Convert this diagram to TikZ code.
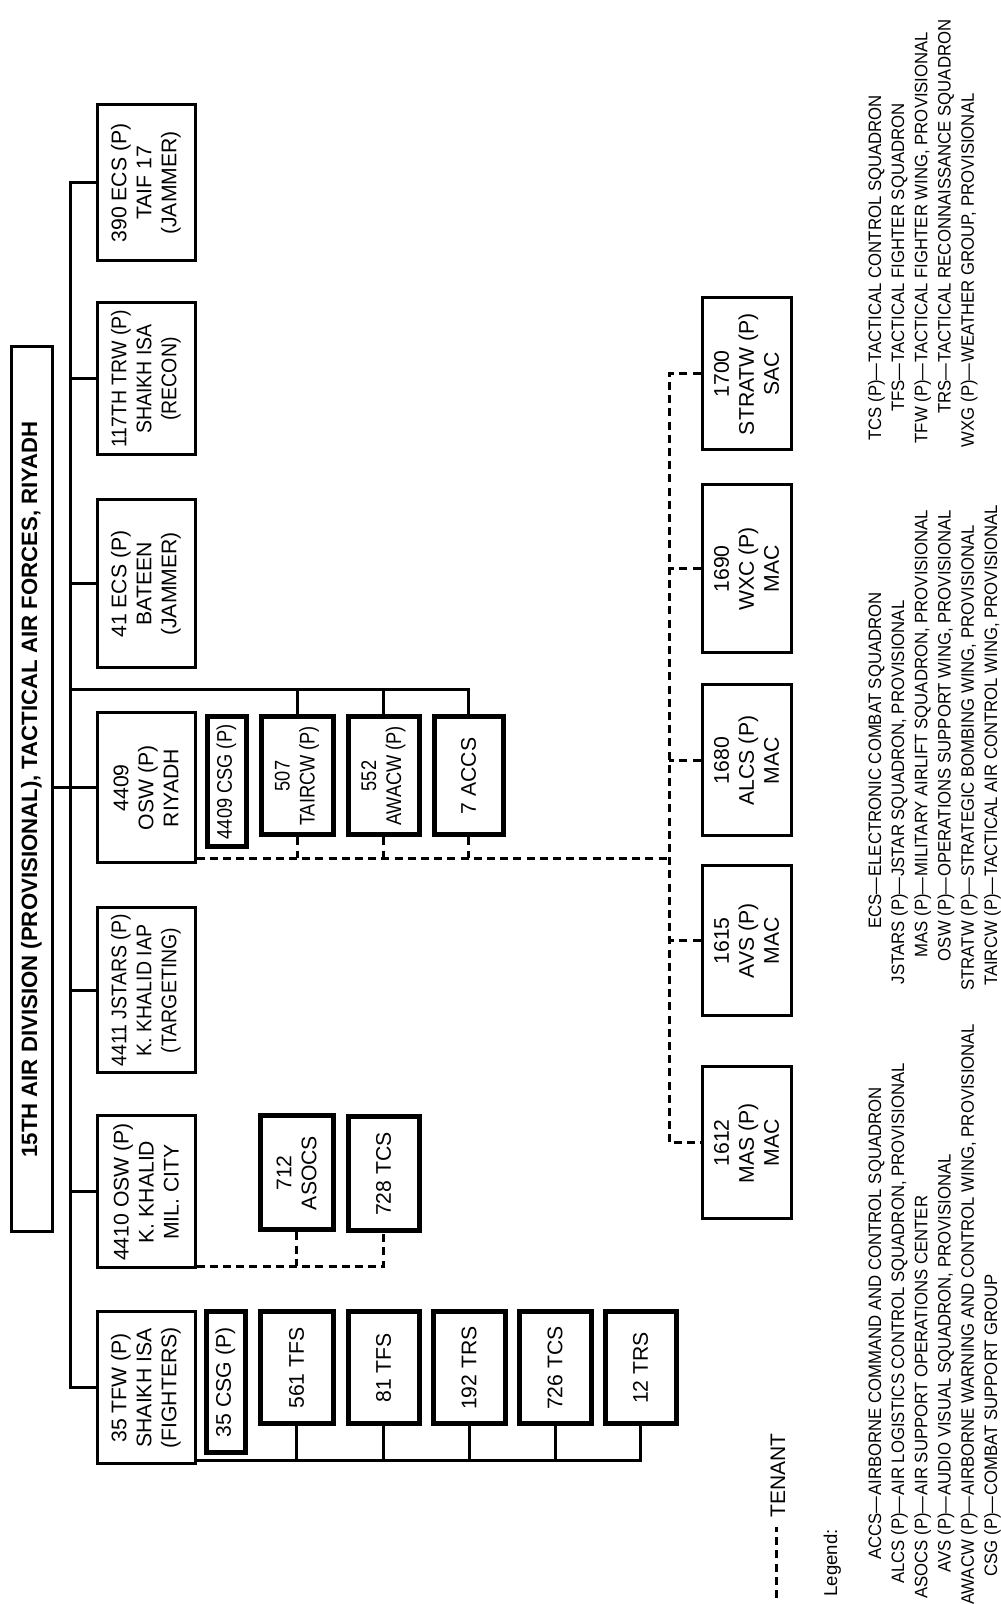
\documentclass[tikz,border=0pt]{standalone}
\usepackage{fontspec}
\setmainfont{Liberation Sans}
\newfontfamily\narrowA{Liberation Sans}[FakeStretch=0.86]
\newfontfamily\narrowB{Liberation Sans}[FakeStretch=0.92]
\newfontfamily\legfamily{Liberation Sans}[FakeStretch=0.93]
\usetikzlibrary{calc}
\newlength\pxu
\setlength\pxu{0.5pt}
\newcommand\boxfnt{\fontsize{10.6pt}{12.5pt}\selectfont}
\newcommand\nboxfnt{\narrowA\fontsize{10.6pt}{12.5pt}\selectfont}
\newcommand\mboxfnt{\narrowB\fontsize{10.6pt}{12.5pt}\selectfont}
\newcommand\titlefnt{\bfseries\fontsize{11.1pt}{12pt}\selectfont}
\newcommand\legfnt{\legfamily\fontsize{9pt}{11.6pt}\selectfont}
\tikzset{
  box/.style={draw, line width=1.5pt, fill=white, align=center, inner sep=0pt, font=\boxfnt},
  tbox/.style={box, line width=2.5pt},
  lone/.style={box, minimum height=98\pxu},
  tenbox/.style={box, minimum height=89\pxu},
  conn/.style={line width=1.5pt},
  tenant/.style={line width=1.5pt, dash pattern=on 4pt off 2.6pt},
  abbr/.style={anchor=base east, inner sep=0pt, font=\legfnt},
  defn/.style={anchor=base west, inner sep=0pt, font=\legfnt},
}
\begin{document}
\begin{tikzpicture}[x=0.5pt, y=0.5pt]
\begin{scope}[shift={(1000,0)}, rotate=90, transform shape]
\fill[white] (0,0) rectangle (1604,1000);
\useasboundingbox (0,0) rectangle (1604,1000);

% title
\node[box, minimum width=885\pxu, minimum height=41\pxu, font=\titlefnt] (title) at (814.5,968.5)
  {15TH AIR DIVISION (PROVISIONAL), TACTICAL AIR FORCES, RIYADH};

% level 1
\node[lone, minimum width=156\pxu] (e390) at (1421,854) {390 ECS (P)\\TAIF 17\\(JAMMER)};
\node[lone, minimum width=152\pxu, font=\mboxfnt] (t117) at (1225,854) {117TH TRW (P)\\SHAIKH ISA\\(RECON)};
\node[lone, minimum width=168\pxu] (e41) at (1020,854) {41 ECS (P)\\BATEEN\\(JAMMER)};
\node[lone, minimum width=150\pxu] (o4409) at (816,854) {4409\\OSW (P)\\RIYADH};
\node[lone, minimum width=165\pxu, font=\mboxfnt] (j4411) at (613.5,854) {4411 JSTARS (P)\\K. KHALID IAP\\(TARGETING)};
\node[lone, minimum width=152\pxu] (o4410) at (412,854) {4410 OSW (P)\\K. KHALID\\MIL. CITY};
\node[lone, minimum width=152\pxu] (t35) at (216,854) {35 TFW (P)\\SHAIKH ISA\\(FIGHTERS)};

% under 4409
\node[tbox, minimum width=130\pxu, minimum height=39\pxu, font=\nboxfnt] (csg4409) at (822,773.5) {4409 CSG (P)};
\node[tbox, minimum width=118\pxu, minimum height=72\pxu, font=\nboxfnt] (tw507) at (828,703) {507\\TAIRCW (P)};
\node[tbox, minimum width=118\pxu, minimum height=71\pxu, font=\nboxfnt] (aw552) at (828,616.5) {552\\AWACW (P)};
\node[tbox, minimum width=118\pxu, minimum height=69\pxu] (acc7) at (828,531.5) {7 ACCS};

% under 4410
\node[tbox, minimum width=114\pxu, minimum height=73\pxu] (as712) at (431,703.5) {712\\ASOCS};
\node[tbox, minimum width=114\pxu, minimum height=71\pxu] (tc728) at (430,616.5) {728 TCS};

% under 35 TFW
\node[tbox, minimum width=141\pxu, minimum height=39\pxu] (csg35) at (221.5,774.5) {35 CSG (P)};
\node[tbox, minimum width=112\pxu, minimum height=73\pxu] (f561) at (236,703.5) {561 TFS};
\node[tbox, minimum width=112\pxu, minimum height=71\pxu] (f81) at (236,616.5) {81 TFS};
\node[tbox, minimum width=112\pxu, minimum height=72\pxu] (r192) at (236,531) {192 TRS};
\node[tbox, minimum width=112\pxu, minimum height=72\pxu] (c726) at (236,445) {726 TCS};
\node[tbox, minimum width=112\pxu, minimum height=71\pxu] (r12) at (236,359.5) {12 TRS};

% tenants
\node[tenbox, minimum width=152\pxu] (s1700) at (1230,253.5) {1700\\STRATW (P)\\SAC};
\node[tenbox, minimum width=168\pxu] (w1690) at (1035,253.5) {1690\\WXC (P)\\MAC};
\node[tenbox, minimum width=151\pxu] (a1680) at (843.5,253.5) {1680\\ALCS (P)\\MAC};
\node[tenbox, minimum width=150\pxu] (v1615) at (663,253.5) {1615\\AVS (P)\\MAC};
\node[tenbox, minimum width=152\pxu] (m1612) at (461,253.5) {1612\\MAS (P)\\MAC};

% spine
\coordinate (spine) at (0,930);
\draw[conn] (e390.north) -- (e390.north |- spine) -- (t35.north |- spine) -- (t35.north);
\draw[conn] (t117.north) -- (t117.north |- spine);
\draw[conn] (e41.north) -- (e41.north |- spine);
\draw[conn] (j4411.north) -- (j4411.north |- spine);
\draw[conn] (o4410.north) -- (o4410.north |- spine);
\draw[conn] (title.south -| o4409.north) -- (o4409.north);

% 4409 subordinate line
\coordinate (b4409) at (914,930);
\draw[conn] (b4409) -- (b4409 |- acc7) -- (acc7.east);
\draw[conn] (b4409 |- tw507) -- (tw507.east);
\draw[conn] (b4409 |- aw552) -- (aw552.east);

% 35 TFW subordinate line
\coordinate (d35) at ([xshift=2.5pt]t35.south west);
\draw[conn] (d35) -- (d35 |- r12) -- (r12.west);
\draw[conn] (f561.west) -- (f561.west -| d35);
\draw[conn] (f81.west) -- (f81.west -| d35);
\draw[conn] (r192.west) -- (r192.west -| d35);
\draw[conn] (c726.west) -- (c726.west -| d35);

% 4410 tenants
\coordinate (d4410) at ([xshift=1.5pt]o4410.south west);
\draw[tenant] (d4410) -- (d4410 |- tc728) -- (tc728.west);
\draw[tenant] (as712.west) -- (as712.west -| d4410);

% 4409 tenants
\coordinate (d4409) at ([xshift=3pt]o4409.south west);
\coordinate (tbus) at (0,331);
\draw[tenant] (d4409) -- (d4409 |- tbus);
\draw[tenant] (tw507.west) -- (tw507.west -| d4409);
\draw[tenant] (aw552.west) -- (aw552.west -| d4409);
\draw[tenant] (acc7.west) -- (acc7.west -| d4409);
\draw[tenant] (s1700.north) -- (s1700.north |- tbus) -- (m1612.north |- tbus) -- (m1612.north);
\draw[tenant] (w1690.north) -- (w1690.north |- tbus);
\draw[tenant] (a1680.north) -- (a1680.north |- tbus);
\draw[tenant] (v1615.north) -- (v1615.north |- tbus);

% legend
\node[anchor=base west, inner sep=0pt, font=\fontsize{10.5pt}{12pt}\selectfont] (tenant) at (86,215) {TENANT};
\coordinate (tsample) at (6,223.5);
\draw[tenant, shorten >=4.5pt] (tsample) -- (tsample -| tenant.west);
\node[anchor=base west, inner sep=0pt, font=\fontsize{9.3pt}{11pt}\selectfont] (legend) at (7,163) {Legend:};

\node[abbr] (ab1) at (108,119) {\begin{tabular}[t]{@{}r@{}}ACCS—\\ALCS (P)—\\ASOCS (P)—\\AVS (P)—\\AWACW (P)—\\CSG (P)—\end{tabular}};
\node[defn] (df1) at (108,119) {\begin{tabular}[t]{@{}l@{}}AIRBORNE COMMAND AND CONTROL SQUADRON\\AIR LOGISTICS CONTROL SQUADRON, PROVISIONAL\\AIR SUPPORT OPERATIONS CENTER\\AUDIO VISUAL SQUADRON, PROVISIONAL\\AIRBORNE WARNING AND CONTROL WING, PROVISIONAL\\COMBAT SUPPORT GROUP\end{tabular}};

\node[abbr] (ab2) at (727,119) {\begin{tabular}[t]{@{}r@{}}ECS—\\JSTARS (P)—\\MAS (P)—\\OSW (P)—\\STRATW (P)—\\TAIRCW (P)—\end{tabular}};
\node[defn] (df2) at (727,119) {\begin{tabular}[t]{@{}l@{}}ELECTRONIC COMBAT SQUADRON\\JSTAR SQUADRON, PROVISIONAL\\MILITARY AIRLIFT SQUADRON, PROVISIONAL\\OPERATIONS SUPPORT WING, PROVISIONAL\\STRATEGIC BOMBING WING, PROVISIONAL\\TACTICAL AIR CONTROL WING, PROVISIONAL\end{tabular}};

\node[abbr] (ab3) at (1241,119) {\begin{tabular}[t]{@{}r@{}}TCS (P)—\\TFS—\\TFW (P)—\\TRS—\\WXG (P)—\end{tabular}};
\node[defn] (df3) at (1241,119) {\begin{tabular}[t]{@{}l@{}}TACTICAL CONTROL SQUADRON\\TACTICAL FIGHTER SQUADRON\\TACTICAL FIGHTER WING, PROVISIONAL\\TACTICAL RECONNAISSANCE SQUADRON\\WEATHER GROUP, PROVISIONAL\end{tabular}};
\end{scope}
\end{tikzpicture}
\end{document}
